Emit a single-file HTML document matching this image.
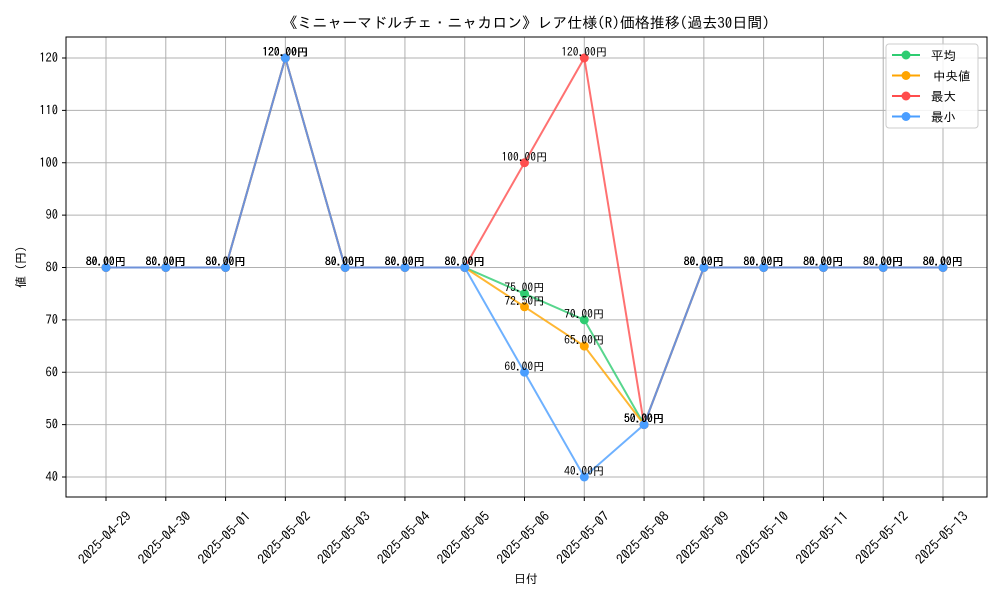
<!DOCTYPE html>
<html><head><meta charset="utf-8"><style>
body{margin:0;background:#fff}
svg text{font-family:"IPAGothic","Liberation Sans","Noto Sans CJK JP",sans-serif}
</style></head><body>
<svg id="chart" width="1000" height="600" xmlns="http://www.w3.org/2000/svg">
<rect width="1000" height="600" fill="#fff"/>
<text x="526" y="28" text-anchor="middle" font-size="15">《ミニャーマドルチェ・ニャカロン》レア仕様(R)価格推移(過去30日間)</text>
<g id="grid"></g><g id="axes"></g><g id="series"></g>
<rect x="66" y="37" width="921" height="460" fill="none" stroke="#000" stroke-width="1"/>
<text x="526" y="583" text-anchor="middle" font-size="12">日付</text>
<text transform="translate(25,267) rotate(-90)" text-anchor="middle" font-size="12">値 (円)</text>
<g id="legend"></g>
</svg>
<script>
const dates=["2025-04-29","2025-04-30","2025-05-01","2025-05-02","2025-05-03","2025-05-04","2025-05-05","2025-05-06","2025-05-07","2025-05-08","2025-05-09","2025-05-10","2025-05-11","2025-05-12","2025-05-13"];
const avgVals=[80,80,80,120,80,80,80,75,70,50,80,80,80,80,80];
const medVals=[80,80,80,120,80,80,80,72.5,65,50,80,80,80,80,80];
const maxVals=[80,80,80,120,80,80,80,100,120,50,80,80,80,80,80];
const minVals=[80,80,80,120,80,80,80,60,40,50,80,80,80,80,80];
const yTicks=[40,50,60,70,80,90,100,110,120];
const seriesNames=["平均","中央値","最大","最小"];
const NS="http://www.w3.org/2000/svg";
const x=i=>106+i*(943-106)/14;
const y=v=>477-(v-40)*(477-58)/80;
function mk(tag,attrs,parent){const e=document.createElementNS(NS,tag);for(const k in attrs)e.setAttribute(k,attrs[k]);parent.appendChild(e);return e;}
const grid=document.getElementById('grid'),axes=document.getElementById('axes'),sg=document.getElementById('series'),lg=document.getElementById('legend');
yTicks.forEach(v=>{
 const l=mk('line',{x1:66,x2:987,y1:y(v),y2:y(v),stroke:'#b0b0b0','stroke-width':1},grid);
 
 
 mk('line',{x1:62,x2:66,y1:y(v),y2:y(v),stroke:'#000'},axes);
 const t=mk('text',{x:58,y:y(v)+4,'text-anchor':'end','font-size':12.5},axes);t.textContent=v;
 
 
});
dates.forEach((d,i)=>{
 const l=mk('line',{x1:x(i),x2:x(i),y1:37,y2:497,stroke:'#b0b0b0','stroke-width':1},grid);
 
 
 mk('line',{x1:x(i),x2:x(i),y1:497,y2:501,stroke:'#000'},axes);
 const t=mk('text',{x:0,y:0,'text-anchor':'middle','font-size':13.5,transform:`translate(${x(i)+2},${541}) rotate(-45)`},axes);t.textContent=d;
 
 
});
const all=[[avgVals,'#2ecc71','avg'],[medVals,'#ffa500','median'],[maxVals,'#ff4d4d','max'],[minVals,'#4a9eff','min']];
all.forEach(([vals,c,n])=>{
 const p=mk('polyline',{points:vals.map((v,i)=>x(i)+','+y(v)).join(' '),fill:'none',stroke:c,'stroke-width':2,'stroke-opacity':0.8},sg);
 
 
 vals.forEach((v,i)=>{
  const m=mk('circle',{cx:x(i),cy:y(v),r:4.5,fill:c},sg);
  
  
 });
});
all.forEach(([vals,c,n])=>{
 vals.forEach((v,i)=>{
  const t=mk('text',{x:x(i),y:y(v)-2,'text-anchor':'middle','font-size':11.5},sg);t.textContent=v.toFixed(2)+'円';
  
  
 });
});
const box=mk('rect',{x:886,y:44,width:92,height:84,rx:3,fill:'#fff','fill-opacity':0.85,stroke:'#ccc'},lg);


all.forEach(([vals,c,n],k)=>{
 const yy=55+k*20.5;
 const g=mk('g',{},lg);
 
 
 mk('line',{x1:892,x2:920,y1:yy,y2:yy,stroke:c,'stroke-width':2},g);
 mk('circle',{cx:906,cy:yy,r:4.5,fill:c},g);
 const t=mk('text',{x:k==1?933:931,y:yy+5,'font-size':12.5},g);t.textContent=seriesNames[k];
});
</script>
</body></html>
